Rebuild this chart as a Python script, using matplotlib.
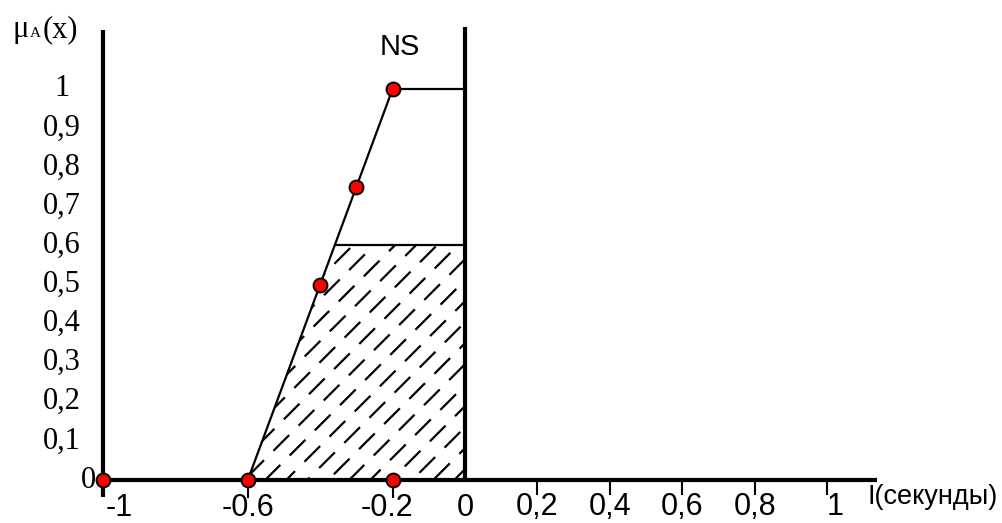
import matplotlib.pyplot as plt
import matplotlib.patches as mpatches
import numpy as np

# membership function NS
mf_x = [-0.6, -0.4, -0.3, -0.2, 0.0]
mf_y = [0.0, 0.5, 0.75, 1.0, 1.0]
# red points
pts_x = [-1.0, -0.6, -0.4, -0.3, -0.2, -0.2]
pts_y = [0.0, 0.0, 0.5, 0.75, 1.0, 0.0]
cut_level = 0.6

y_ticks = [0.1, 0.2, 0.3, 0.4, 0.5, 0.6, 0.7, 0.8, 0.9, 1.0]
y_labels = ["0,1", "0,2", "0,3", "0,4", "0,5", "0,6", "0,7", "0,8", "0,9", "1"]
xneg_ticks = [-1.0, -0.6, -0.2, 0.0]
xneg_labels = ["-1", "-0.6", "-0.2", "0"]
xpos_ticks = [0.2, 0.4, 0.6, 0.8, 1.0]
xpos_labels = ["0,2", "0,4", "0,6", "0,8", "1"]

# pixel -> data scale
PX = 1 / 362.0
PY = 1 / 391.0

serif = "Liberation Serif"
sans = "Liberation Sans"

fig = plt.figure(figsize=(10.02, 5.23), dpi=100)
ax = fig.add_axes([0, 0, 1, 1])
ax.set_xlim(-465 * PX, 537 * PX)
ax.set_ylim(-43 * PY, 480 * PY)
ax.axis("off")

# axes lines
ax.plot([-1, -1], [-17 * PY, 450 * PY], color="black", lw=3, solid_capstyle="butt")
ax.plot([-1, 412 * PX], [0, 0], color="black", lw=3, solid_capstyle="butt")
ax.plot([0, 0], [0, 453 * PY], color="black", lw=3, solid_capstyle="butt")

# ticks
for t in xneg_ticks[1:3]:
    ax.plot([t, t], [0, -17 * PY], color="black", lw=1.5)
for t in xpos_ticks:
    ax.plot([t, t], [-2 * PY, -14 * PY], color="black", lw=1.5)

# membership line
ax.plot(mf_x, mf_y, color="black", lw=1.6)

# cut area
x_cut = np.interp(cut_level, mf_y[:4], mf_x[:4])
ax.plot([x_cut, 0], [cut_level, cut_level], color="black", lw=1.6)
poly = mpatches.Polygon([(mf_x[0], 0), (x_cut, cut_level), (0, cut_level), (0, 0)],
                        closed=True, fill=False, edgecolor="none")
ax.add_patch(poly)

# dashed hatch
w_px = (0 - mf_x[0]) / PX
h_px = cut_level / PY
step = 21
for c in np.arange(-h_px, w_px + step, step):
    yp = np.array([0, h_px])
    xp = c + yp
    ln, = ax.plot(mf_x[0] + xp * PX, yp * PY, color="black", lw=1.6,
                  linestyle=(c % 17, (10, 6)))
    ln.set_clip_path(poly)

# points
ax.plot(pts_x, pts_y, "o", ms=10, mfc="#ff0000", mec="black", mew=1.4, zorder=5)

# y tick labels
for v, s in zip(y_ticks, y_labels):
    ax.text(-1 - 41 * PX, v, s, fontsize=22, family=serif, ha="center", va="center")
ax.text(-1 - 15 * PX, 0, "0", fontsize=22, family=serif, ha="center", va="center")

# x tick labels
shift = {"-1": 16, "-0.6": 0, "-0.2": -6, "0": 0}
for v, s in zip(xneg_ticks, xneg_labels):
    ax.text(v + shift[s] * PX, -42.5 * PY, s, fontsize=22, family=sans, ha="center", va="bottom")
for v, s in zip(xpos_ticks, xpos_labels):
    dx = 8 if s == "1" else 0
    ax.text(v + dx * PX, -27 * PY, s, fontsize=22, family=sans, ha="center", va="center")

ax.text(403 * PX, -17 * PY, "I(секунды)", fontsize=19.5, family=sans, ha="left", va="center")

# titles
ax.text(-0.18, 433 * PY, "NS", fontsize=21, family=sans, ha="center", va="center")
ax.text(-453 * PX, 443 * PY, "μ", fontsize=22, family=serif, ha="left", va="baseline")
ax.text(-435 * PX, 443 * PY, "A", fontsize=11, family=serif, ha="left", va="baseline")
ax.text(-422 * PX, 443 * PY, "(x)", fontsize=22, family=serif, ha="left", va="baseline")

plt.savefig("out.png", dpi=100)
